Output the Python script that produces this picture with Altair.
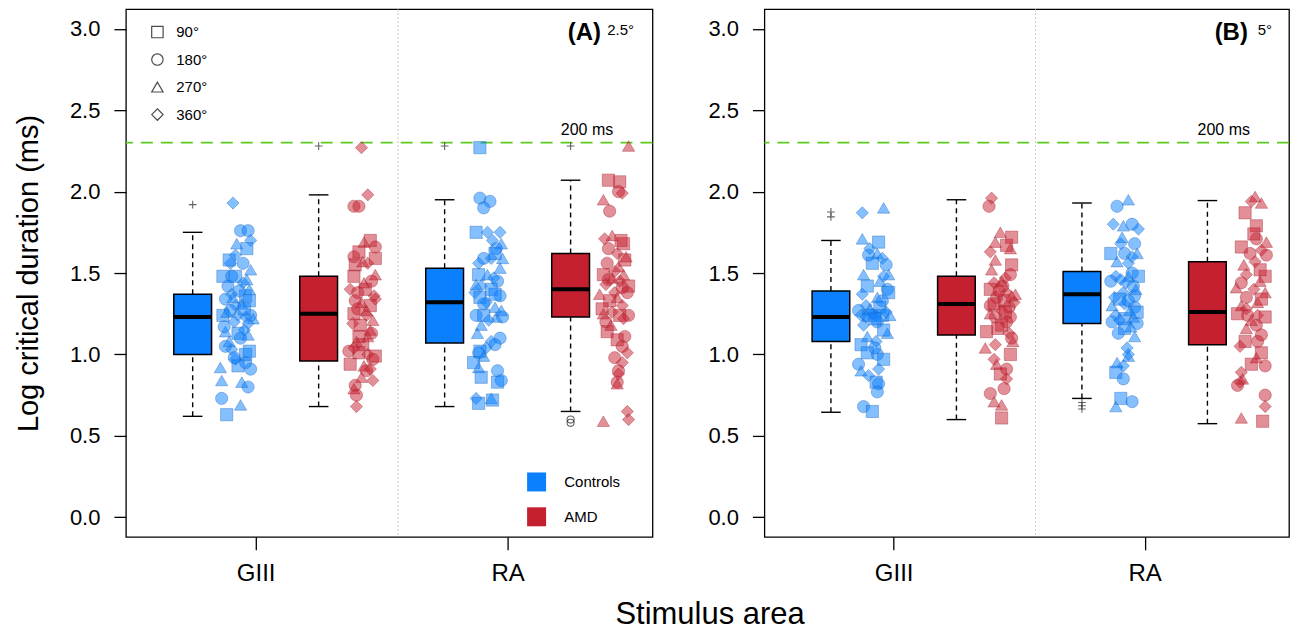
import math
import altair as alt
import pandas as pd

# ------------------------------------------------------------------ data
AREAS = ["GIII", "RA"]
GROUPS = ["Controls", "AMD"]
PANELS = ["A", "B"]
PANEL_DEGREES = ["2.5°", "5°"]
ANGLE_LABELS = ["90°", "180°", "270°", "360°"]
ANGLE_CODES = ["S", "C", "T", "D"]
THRESHOLD_MS = 200
THRESHOLD_LABEL = "200 ms"
Y_TICKS = [0.0, 0.5, 1.0, 1.5, 2.0, 2.5, 3.0]

# Box-plot statistics, order: GIII-Controls, GIII-AMD, RA-Controls, RA-AMD
A_LOW = [0.62, 0.68, 0.68, 0.65]
A_Q1 = [1.00, 0.96, 1.07, 1.23]
A_MED = [1.23, 1.25, 1.32, 1.40]
A_Q3 = [1.37, 1.48, 1.53, 1.62]
A_HIGH = [1.75, 1.98, 1.95, 2.07]

B_LOW = [0.645, 0.60, 0.73, 0.575]
B_Q1 = [1.08, 1.12, 1.19, 1.06]
B_MED = [1.23, 1.31, 1.37, 1.26]
B_Q3 = [1.39, 1.48, 1.51, 1.57]
B_HIGH = [1.70, 1.95, 1.93, 1.945]

# Outliers (box number 1..4, value, symbol)
A_OUT_BOX = [1, 2, 3, 4, 4, 4]
A_OUT_VAL = [1.92, 2.28, 2.28, 2.28, 0.58, 0.60]
A_OUT_SYM = ["+", "+", "+", "+", "o", "o"]
B_OUT_BOX = [1, 1, 3, 3, 3]
B_OUT_VAL = [1.875, 1.845, 0.705, 0.685, 0.665]
B_OUT_SYM = ["+", "+", "+", "+", "+"]

# Individual points: value, rotation code (S=90°, C=180°, T=270°, D=360°), jitter
A_GIII_CTRL_Y = [1.93, 1.76, 1.76, 1.68, 1.70, 1.65, 1.56, 1.56, 1.48, 1.48, 1.48, 1.46, 1.42, 1.37, 1.36, 1.34,
                 1.30, 1.31, 1.24, 1.24, 1.24, 1.23, 1.22, 1.19, 1.14, 1.13, 1.12, 1.05, 1.03, 1.00, 0.97, 0.95,
                 0.92, 0.91, 0.93, 0.84, 0.83, 0.80, 0.73, 0.69, 0.63, 1.27, 1.28, 1.20, 1.10, 1.40, 1.58,
                 1.44, 1.33, 1.26, 1.17, 1.15, 1.39, 1.35, 1.08, 1.02, 0.98, 1.52, 1.61]
A_GIII_CTRL_S = "DCCTDSDCSCSTCDSCDTSDCDTDTSTCDSDCTCSTTCCTS" + "CSDCTS" + "DSTCDCTTSCTD"
A_GIII_CTRL_J = [-0.03, 0.03, 0.09, 0.00, 0.11, 0.08, -0.05, 0.05, -0.11, -0.04, -0.01, 0.08, -0.07, -0.04, 0.07,
                 -0.09, -0.01, 0.04, -0.11, 0.01, 0.11, 0.07, 0.13, 0.09, -0.09, 0.01, 0.09, -0.09, -0.04, 0.07,
                 -0.01, 0.07, -0.13, 0.11, 0.01, -0.12, 0.04, 0.09, -0.12, 0.03, -0.08, -0.05, 0.06, -0.02, 0.03,
                 0.10, -0.06, 0.05, 0.10, -0.08, -0.10, 0.06, 0.02, -0.03, -0.06, 0.10, -0.02, 0.11, -0.01]

A_GIII_AMD_Y = [2.27, 1.98, 1.91, 1.91, 1.70, 1.69, 1.66, 1.60, 1.59, 1.56, 1.55, 1.49, 1.48, 1.45, 1.40, 1.40,
                1.33, 1.32, 1.30, 1.24, 1.25, 1.18, 1.15, 1.11, 1.11, 1.02, 1.01, 1.00, 0.97, 0.94, 0.93, 0.91,
                0.86, 0.84, 0.81, 0.79, 0.75, 0.68, 1.36, 1.28, 1.21, 1.06,
                1.44, 1.38, 1.34, 1.27, 1.19, 1.13, 1.08, 0.99, 1.04, 0.90, 1.57, 1.63]
A_GIII_AMD_S = "DDCCSTCCSDSTSCDSCTSDSSTSTCSDCSTDTDCTCD" + "DCTS" + "TCDTDCTSDCTS"
A_GIII_AMD_J = [-0.01, 0.04, -0.07, -0.03, 0.06, 0.01, 0.10, -0.07, 0.10, 0.04, -0.06, 0.10, -0.07, 0.07, -0.10,
                0.02, -0.06, -0.01, 0.06, 0.03, -0.07, -0.02, 0.06, -0.03, 0.04, -0.11, -0.03, 0.04, 0.08, -0.10,
                0.01, 0.06, -0.01, 0.08, -0.06, -0.07, -0.05, -0.05, 0.09, -0.04, 0.08, 0.00,
                0.01, -0.04, 0.10, 0.03, -0.08, 0.07, -0.05, 0.10, -0.07, 0.03, 0.00, -0.03]

A_RA_CTRL_Y = [2.27, 1.96, 1.94, 1.90, 1.75, 1.75, 1.75, 1.70, 1.68, 1.65, 1.59, 1.59, 1.59, 1.53, 1.49, 1.49,
               1.45, 1.42, 1.40, 1.38, 1.36, 1.35, 1.32, 1.29, 1.24, 1.24, 1.23, 1.23, 1.18, 1.10, 1.08, 1.04,
               1.02, 1.01, 0.95, 0.92, 0.90, 0.83, 0.84, 0.73, 0.73, 0.72, 0.70,
               1.47, 1.43, 1.37, 1.31, 1.27, 1.21, 1.13, 1.06, 0.99, 1.56, 1.62, 0.86]
A_RA_CTRL_S = "SCCCSDDDTCCDTTSTCDSDCSDTCSTCTCDDSCSTCSCDTSS" + "DTSCTDTCTDSS"
A_RA_CTRL_J = [-0.07, -0.07, 0.01, -0.04, -0.10, -0.01, 0.09, 0.03, 0.10, 0.06, -0.04, 0.02, 0.11, 0.09, -0.08,
               -0.01, 0.07, -0.06, 0.02, -0.11, 0.09, -0.07, -0.02, 0.05, -0.10, -0.04, 0.06, 0.11, -0.06, 0.09,
               0.02, -0.02, -0.07, -0.08, -0.12, -0.08, 0.07, 0.07, 0.10, -0.10, 0.02, 0.03, -0.08,
               0.04, -0.10, 0.05, -0.04, 0.10, 0.00, -0.09, 0.05, -0.04, -0.08, 0.05, -0.06]

A_RA_AMD_Y = [2.28, 2.07, 2.06, 2.00, 1.99, 1.95, 1.88, 1.71, 1.73, 1.68, 1.65, 1.62, 1.58, 1.54, 1.49, 1.49,
              1.46, 1.45, 1.42, 1.38, 1.38, 1.37, 1.25, 1.26, 1.24, 1.24, 1.14, 1.09, 1.11, 1.01, 0.98, 0.95,
              0.90, 0.83, 0.82, 0.59, 0.65, 0.60, 1.33, 1.30, 1.47, 1.20,
              1.43, 1.41, 1.35, 1.28, 1.22, 1.18, 1.56, 1.60, 1.51, 1.05, 0.88, 1.70]
A_RA_AMD_S = "TSSCDTCDTSCDSTSTCDSDCTTDSCSSCDCDCCTTDD" + "SDTC" + "DCTSDTCTDCDS"
A_RA_AMD_J = [0.11, -0.05, 0.04, 0.03, 0.06, -0.09, -0.04, -0.08, -0.02, 0.07, -0.05, 0.02, 0.08, 0.03, -0.09,
              0.07, -0.05, 0.04, 0.11, 0.00, 0.10, -0.12, -0.09, -0.02, 0.04, 0.11, -0.06, 0.02, 0.08, 0.10,
              0.00, 0.06, 0.03, 0.02, 0.02, -0.09, 0.10, 0.11, -0.04, 0.06, -0.02, -0.07,
              -0.07, 0.06, 0.02, -0.10, 0.07, -0.03, -0.06, 0.09, 0.00, 0.06, 0.03, 0.05]

B_GIII_CTRL_Y = [1.87, 1.90, 1.71, 1.69, 1.61, 1.62, 1.59, 1.56, 1.49, 1.49, 1.48, 1.40, 1.38, 1.37, 1.35, 1.30,
                 1.29, 1.27, 1.24, 1.24, 1.24, 1.24, 1.24, 1.25, 1.23, 1.20, 1.11, 1.13, 1.06, 1.08, 1.00, 0.97,
                 0.94, 1.01, 0.90, 0.91, 0.83, 0.82, 0.77, 0.68, 0.65,
                 1.26, 1.22, 1.28, 1.33, 1.42, 1.45, 1.18, 1.15, 1.04, 0.87, 1.55, 1.65]
B_GIII_CTRL_S = "DTTSCTDSTTDCSDTDSCDSDSTDDCTTSDCSCSTDSCCCS" + "DSTCSTDSCDCD"
B_GIII_CTRL_J = [-0.10, 0.07, -0.10, 0.03, -0.05, 0.02, 0.06, -0.02, -0.09, 0.11, 0.07, 0.10, 0.11, -0.10, 0.02,
                 -0.07, 0.04, -0.13, -0.11, -0.05, 0.01, 0.06, 0.12, -0.02, -0.07, 0.02, -0.06, 0.10, -0.11, 0.01,
                 0.02, 0.07, -0.13, -0.06, -0.11, 0.03, 0.01, 0.03, 0.02, -0.09, -0.02,
                 0.09, 0.00, -0.04, 0.06, -0.06, 0.04, -0.09, 0.07, 0.00, -0.05, 0.09, -0.04]

B_GIII_AMD_Y = [1.96, 1.91, 1.75, 1.72, 1.69, 1.63, 1.65, 1.55, 1.52, 1.49, 1.45, 1.40, 1.38, 1.35, 1.37, 1.33,
                1.30, 1.29, 1.32, 1.23, 1.23, 1.18, 1.14, 1.13, 1.10, 1.06, 1.04, 1.00, 0.94, 0.91, 0.88, 0.85,
                0.79, 0.76, 0.71, 0.69, 0.61, 1.42, 1.44, 1.26,
                1.47, 1.36, 1.31, 1.27, 1.25, 1.20, 1.16, 1.58, 1.67, 0.97, 1.39, 1.08]
B_GIII_AMD_S = "DCTSTDTSTCTSDCTSCCDCCSSDCDTSTCSDCCTTS" + "CDS" + "DTSDTCSTSDCT"
B_GIII_AMD_J = [-0.07, -0.09, 0.00, 0.09, -0.04, -0.08, 0.08, 0.09, -0.07, 0.08, 0.01, -0.08, 0.05, -0.03, 0.12,
                0.03, -0.08, 0.07, 0.11, -0.04, 0.08, 0.01, -0.11, 0.07, 0.09, -0.04, -0.12, 0.08, -0.03, 0.05,
                0.00, 0.05, 0.03, -0.08, -0.05, 0.01, 0.01, 0.02, -0.05, 0.04,
                0.04, 0.09, -0.05, 0.01, -0.08, 0.05, -0.02, -0.04, 0.05, -0.05, -0.01, 0.10]

B_RA_CTRL_Y = [1.95, 1.91, 1.80, 1.79, 1.80, 1.77, 1.68, 1.68, 1.62, 1.62, 1.62, 1.57, 1.56, 1.48, 1.48, 1.48,
               1.45, 1.42, 1.38, 1.36, 1.30, 1.29, 1.31, 1.24, 1.22, 1.23, 1.19, 1.20, 1.16, 1.11, 0.99, 1.00,
               0.95, 0.93, 0.89, 0.85, 0.73, 0.71, 0.68, 1.44, 1.34, 1.27,
               1.50, 1.46, 1.40, 1.35, 1.33, 1.26, 1.21, 1.17, 1.13, 1.60, 1.72, 1.04]
B_RA_CTRL_S = "TCDTCDCDSCTTDSDTCCDCTCDDSTCCSTTDTDSCSCT" + "DST" + "CDTDCSDTCDTD"
B_RA_CTRL_J = [0.02, -0.07, -0.10, -0.02, 0.05, 0.10, 0.07, -0.04, -0.12, -0.01, 0.09, -0.07, 0.02, 0.10, -0.08,
               0.02, -0.12, 0.06, -0.02, 0.07, -0.11, 0.07, -0.01, -0.08, -0.01, 0.06, 0.09, -0.11, -0.01, 0.07,
               0.02, 0.02, -0.07, -0.02, -0.08, -0.02, -0.04, 0.05, -0.08, 0.00, -0.05, 0.03,
               0.05, -0.04, 0.08, -0.09, 0.02, 0.09, -0.05, 0.04, -0.06, 0.05, -0.03, 0.01]

B_RA_AMD_Y = [1.97, 1.94, 1.93, 1.87, 1.79, 1.71, 1.69, 1.66, 1.62, 1.61, 1.57, 1.49, 1.48, 1.45, 1.41, 1.35,
              1.38, 1.32, 1.30, 1.25, 1.24, 1.24, 1.23, 1.18, 1.16, 1.08, 1.08, 1.01, 0.93, 0.94, 0.89, 0.85,
              0.83, 0.81, 0.75, 0.68, 0.61, 0.59,
              1.52, 1.44, 1.40, 1.34, 1.28, 1.21, 1.12, 1.05, 1.74, 1.55, 0.98, 1.64]
B_RA_AMD_S = "TDTSSCTSCCDDSTTCTTTSCDSCTSCSCSDTDCCDTS" + "SCDSDTCDSTTD"
B_RA_AMD_J = [0.03, 0.00, 0.08, -0.05, 0.04, 0.04, 0.12, -0.08, -0.01, 0.12, 0.03, -0.04, 0.11, 0.07, -0.12,
              -0.04, 0.11, 0.05, -0.08, -0.11, -0.03, 0.05, 0.11, 0.04, -0.04, -0.05, 0.05, 0.08, 0.11, 0.00,
              -0.08, -0.07, -0.09, -0.11, 0.11, 0.11, -0.08, 0.09,
              0.07, -0.08, 0.02, 0.08, -0.04, 0.00, 0.08, -0.09, 0.02, -0.06, 0.04, 0.08]

POINT_SETS = {
    ("A", "GIII", "Controls"): (A_GIII_CTRL_Y, A_GIII_CTRL_S, A_GIII_CTRL_J),
    ("A", "GIII", "AMD"): (A_GIII_AMD_Y, A_GIII_AMD_S, A_GIII_AMD_J),
    ("A", "RA", "Controls"): (A_RA_CTRL_Y, A_RA_CTRL_S, A_RA_CTRL_J),
    ("A", "RA", "AMD"): (A_RA_AMD_Y, A_RA_AMD_S, A_RA_AMD_J),
    ("B", "GIII", "Controls"): (B_GIII_CTRL_Y, B_GIII_CTRL_S, B_GIII_CTRL_J),
    ("B", "GIII", "AMD"): (B_GIII_AMD_Y, B_GIII_AMD_S, B_GIII_AMD_J),
    ("B", "RA", "Controls"): (B_RA_CTRL_Y, B_RA_CTRL_S, B_RA_CTRL_J),
    ("B", "RA", "AMD"): (B_RA_AMD_Y, B_RA_AMD_S, B_RA_AMD_J),
}
STATS = {"A": (A_LOW, A_Q1, A_MED, A_Q3, A_HIGH), "B": (B_LOW, B_Q1, B_MED, B_Q3, B_HIGH)}
OUTLIERS = {"A": (A_OUT_BOX, A_OUT_VAL, A_OUT_SYM), "B": (B_OUT_BOX, B_OUT_VAL, B_OUT_SYM)}

# ------------------------------------------------------------------ style
FONT = "Liberation Sans"
BLUE = "#0A80FF"
RED = "#C5202F"
BLUE_EDGE = "#1E64B4"
RED_EDGE = "#A3202C"
GREEN = "#5DC91E"
BOX_HALF = 0.15
CAP_HALF = 0.078
PTS_SHIFT = 0.35
DIVIDER_X = 2.63
X_DOMAIN = [0.47, 4.65]
Y_DOMAIN = [-0.12, 3.12]
PLUS_PATH = "M-1,0L1,0M0,-1L0,1"
SYMBOLS = ["square", "circle", "triangle-up", "diamond"]

code_to_angle = dict(zip(ANGLE_CODES, ANGLE_LABELS))


def box_pos(area, group):
    return 1 + 2 * AREAS.index(area) + GROUPS.index(group)


# ------------------------------------------------------------------ tables
pt_rows = []
for (p, area, group), (ys, shapes, jit) in POINT_SETS.items():
    for y, s, j in zip(ys, shapes, jit):
        pt_rows.append(dict(panel=p, area=area, group=group, y=y, angle=code_to_angle[s],
                            x=box_pos(area, group) + PTS_SHIFT + j))
points = pd.DataFrame(pt_rows)

bx_rows, wh_rows, cap_rows = [], [], []
for p in PANELS:
    lo, q1, md, q3, hi = STATS[p]
    for k in range(4):
        area, group = AREAS[k // 2], GROUPS[k % 2]
        pos = box_pos(area, group)
        bx_rows.append(dict(panel=p, group=group, pos=pos, xl=pos - BOX_HALF, xr=pos + BOX_HALF,
                            q1=q1[k], med=md[k], q3=q3[k]))
        wh_rows.append(dict(panel=p, pos=pos, ya=q3[k], yb=hi[k]))
        wh_rows.append(dict(panel=p, pos=pos, ya=lo[k], yb=q1[k]))
        cap_rows.append(dict(panel=p, cl=pos - CAP_HALF, cr=pos + CAP_HALF, y=hi[k]))
        cap_rows.append(dict(panel=p, cl=pos - CAP_HALF, cr=pos + CAP_HALF, y=lo[k]))
boxes = pd.DataFrame(bx_rows)
whiskers = pd.DataFrame(wh_rows)
caps = pd.DataFrame(cap_rows)

out_rows = []
for p in PANELS:
    for b, v, s in zip(*OUTLIERS[p]):
        out_rows.append(dict(panel=p, pos=b, y=v, sym=s))
outliers = pd.DataFrame(out_rows)

# ------------------------------------------------------------------ scales
x_scale = alt.Scale(domain=X_DOMAIN, nice=False, zero=False)
y_scale = alt.Scale(domain=Y_DOMAIN, nice=False, zero=False)
fill_scale = alt.Scale(domain=GROUPS, range=[BLUE, RED])
edge_scale = alt.Scale(domain=GROUPS, range=[BLUE_EDGE, RED_EDGE])
shape_scale = alt.Scale(domain=ANGLE_LABELS, range=SYMBOLS)

label_expr = "datum.value < 2.5 ? '%s' : '%s'" % (AREAS[0], AREAS[1])
x_axis = alt.Axis(values=[1.5, 3.5], labelExpr=label_expr, title=None, grid=False, domain=False,
                  tickSize=13, tickWidth=1.3, labelFontSize=24, labelPadding=12)


def y_axis(with_title):
    kw = dict(values=Y_TICKS, format=".1f", grid=False, domain=False, tickSize=12, tickWidth=1.3,
              labelFontSize=22, labelPadding=14)
    if with_title:
        kw.update(title="Log critical duration (ms)", titleFontSize=29, titleFontWeight="normal",
                  titlePadding=26)
    else:
        kw.update(title=None)
    return alt.Axis(**kw)


def make_panel(pi):
    p = PANELS[pi]
    ya = y_axis(pi == 0)

    def X(f):
        return alt.X(f, type="quantitative", scale=x_scale, axis=x_axis)

    def Y(f):
        return alt.Y(f, type="quantitative", scale=y_scale, axis=ya)

    div_df = pd.DataFrame({"x": [DIVIDER_X]})
    divider = alt.Chart(div_df).mark_rule(color="#C4C4C4", strokeDash=[2, 2], strokeWidth=1).encode(x=X("x"))

    thr_df = pd.DataFrame({"y": [math.log10(THRESHOLD_MS)], "x": [4.13], "ty": [2.38],
                           "label": [THRESHOLD_LABEL]})
    thr = alt.Chart(thr_df).mark_rule(color=GREEN, strokeDash=[12, 8], strokeWidth=1.8).encode(y=Y("y"))
    thr_txt = alt.Chart(thr_df).mark_text(fontSize=16, align="center", baseline="middle", color="black").encode(
        x=X("x"), y=Y("ty"), text="label:N")

    wh = alt.Chart(whiskers[whiskers.panel == p]).mark_rule(
        color="black", strokeDash=[5, 4], strokeWidth=1.4).encode(x=X("pos"), y=Y("ya"), y2="yb")
    cp = alt.Chart(caps[caps.panel == p]).mark_rule(color="black", strokeWidth=1.4).encode(
        x=X("cl"), x2="cr", y=Y("y"))
    bxs = alt.Chart(boxes[boxes.panel == p]).mark_rect(stroke="black", strokeWidth=1.5).encode(
        x=X("xl"), x2="xr", y=Y("q1"), y2="q3",
        fill=alt.Fill("group:N", scale=fill_scale, legend=None))
    med = alt.Chart(boxes[boxes.panel == p]).mark_rule(color="black", strokeWidth=4).encode(
        x=X("xl"), x2="xr", y=Y("med"))
    out_p = outliers[outliers.panel == p]
    out_plus = alt.Chart(out_p[out_p.sym == "+"]).mark_point(
        shape=PLUS_PATH, filled=False, color="#222222", strokeWidth=1.1, size=60).encode(x=X("pos"), y=Y("y"))
    out_circ = alt.Chart(out_p[out_p.sym == "o"]).mark_point(
        shape="circle", filled=False, color="#222222", strokeWidth=1.1, size=50).encode(x=X("pos"), y=Y("y"))
    pts = alt.Chart(points[points.panel == p]).mark_point(
        filled=True, size=150, fillOpacity=0.5, strokeOpacity=0.55, strokeWidth=0.7).encode(
        x=X("x"), y=Y("y"),
        shape=alt.Shape("angle:N", scale=shape_scale, legend=None),
        fill=alt.Fill("group:N", scale=fill_scale, legend=None),
        stroke=alt.Stroke("group:N", scale=edge_scale, legend=None))

    lab_x = [4.11, 4.19][pi]
    deg_x = [4.29, 4.40][pi]
    lab_df = pd.DataFrame({"x": [lab_x], "y": [2.975], "t": ["(%s)" % p]})
    deg_df = pd.DataFrame({"x": [deg_x], "y": [2.99], "t": [PANEL_DEGREES[pi]]})
    lab = alt.Chart(lab_df).mark_text(fontSize=24, fontWeight="bold", align="center", baseline="middle",
                                      color="black").encode(x=X("x"), y=Y("y"), text="t:N")
    deg = alt.Chart(deg_df).mark_text(fontSize=15, align="left", baseline="middle", color="black").encode(
        x=X("x"), y=Y("y"), text="t:N")

    layers = [divider, thr, wh, cp, bxs, med, out_plus, out_circ, pts, thr_txt, lab, deg]

    if pi == 0:
        sl_df = pd.DataFrame({"angle": ANGLE_LABELS, "x": [0.72] * 4, "tx": [0.87] * 4,
                              "y": [2.98, 2.811, 2.642, 2.473]})
        sl_pts = alt.Chart(sl_df).mark_point(filled=False, color="black", strokeWidth=1.2, size=130).encode(
            x=X("x"), y=Y("y"), shape=alt.Shape("angle:N", scale=shape_scale, legend=None))
        sl_txt = alt.Chart(sl_df).mark_text(fontSize=15, align="left", baseline="middle", color="black").encode(
            x=X("tx"), y=Y("y"), text="angle:N")
        cl_df = pd.DataFrame({"group": GROUPS, "x": [3.73, 3.73], "tx": [3.95, 3.95], "y": [0.217, 0.003]})
        cl_pts = alt.Chart(cl_df).mark_point(shape="square", filled=True, size=361, opacity=1).encode(
            x=X("x"), y=Y("y"), fill=alt.Fill("group:N", scale=fill_scale, legend=None))
        cl_txt = alt.Chart(cl_df).mark_text(fontSize=15, align="left", baseline="middle", color="black").encode(
            x=X("tx"), y=Y("y"), text="group:N")
        layers += [sl_pts, sl_txt, cl_pts, cl_txt]

    width = 527 if pi == 0 else 525
    return alt.layer(*layers).properties(width=width, height=528)


panel_a = make_panel(0)
panel_b = make_panel(1)

chart = alt.hconcat(panel_a, panel_b, spacing=112, bounds="flush").properties(
    padding={"left": 13, "top": 7, "right": 0, "bottom": 0},
    title=alt.TitleParams("Stimulus area", orient="bottom", anchor="middle", fontSize=31,
                          fontWeight="normal", font=FONT, color="black", offset=14, dx=58),
).configure_view(stroke="black", strokeWidth=1.3).configure_axis(
    labelFont=FONT, titleFont=FONT, labelColor="black", titleColor="black", tickColor="black"
).configure_text(font=FONT)

chart.save("out.html", embed_options={"renderer": "svg", "actions": False})
